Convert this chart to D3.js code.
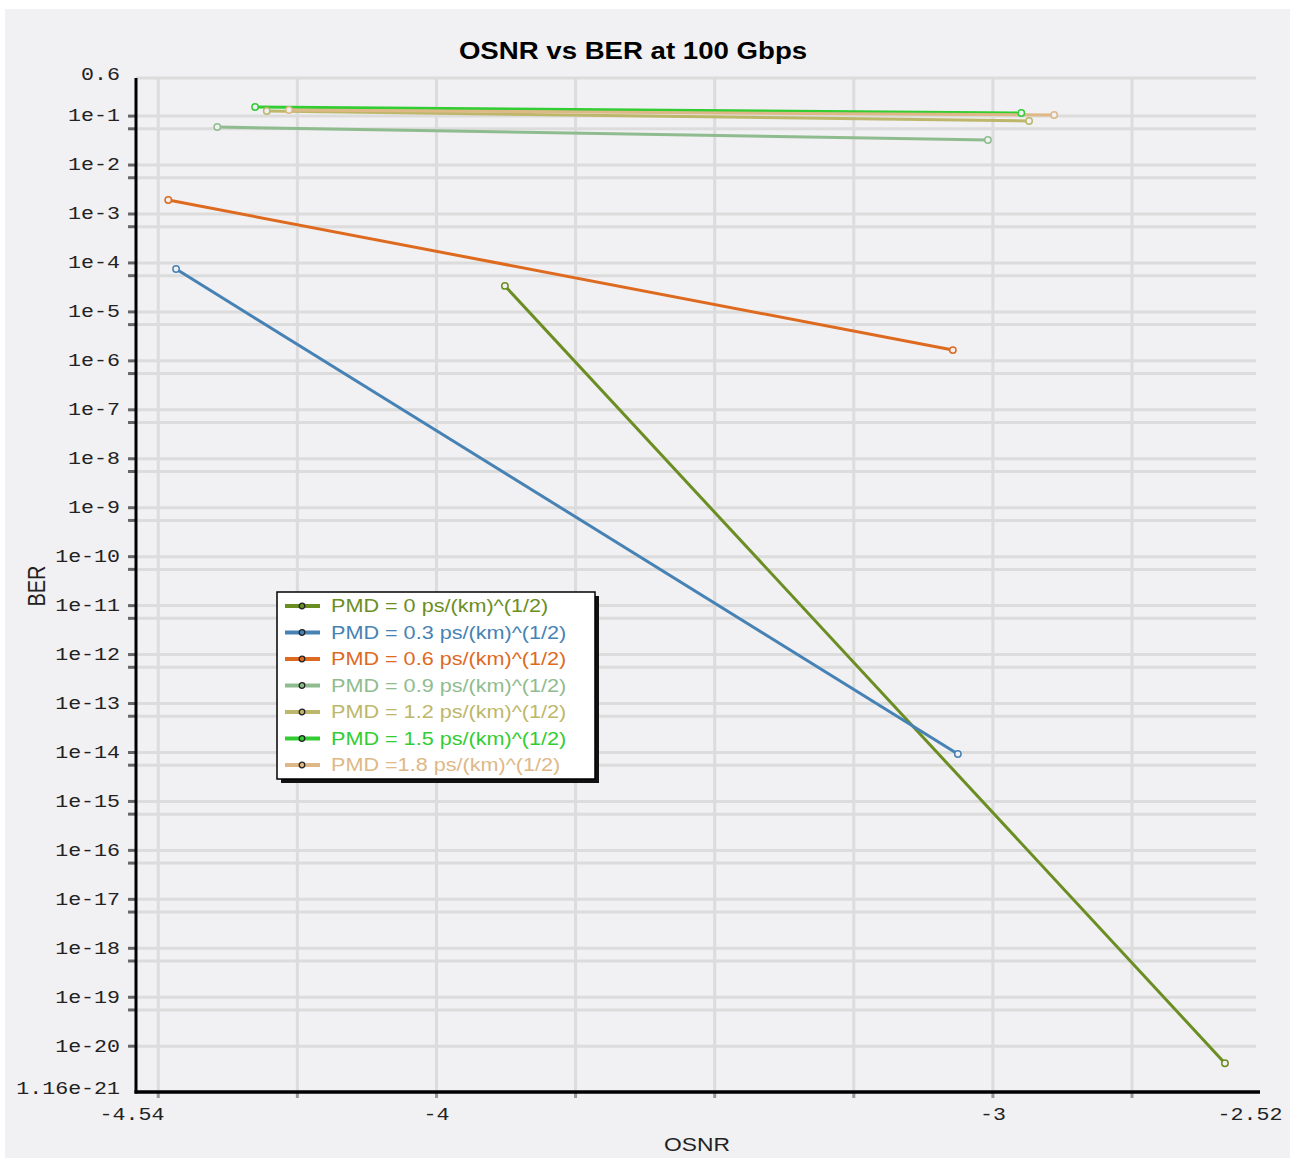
<!DOCTYPE html>
<html>
<head>
<meta charset="utf-8">
<script src="https://cdn.jsdelivr.net/npm/d3@7"></script>
<style>
  html, body { margin: 0; padding: 0; background: #ffffff; }
  svg { display: block; }
</style>
</head>
<body>
<svg id="chart" width="1295" height="1158"></svg>
<script>
// ---- data ----
const seriesNames = [
  "PMD = 0 ps/(km)^(1/2)",
  "PMD = 0.3 ps/(km)^(1/2)",
  "PMD = 0.6 ps/(km)^(1/2)",
  "PMD = 0.9 ps/(km)^(1/2)",
  "PMD = 1.2 ps/(km)^(1/2)",
  "PMD = 1.5 ps/(km)^(1/2)",
  "PMD =1.8 ps/(km)^(1/2)"
];
const seriesColors = ["#6b8e23", "#4682b4", "#dd6a1f", "#8fbc8f", "#bdb76b", "#32cd32", "#deb887"];

// OSNR values (x) per series
const osnrPmd00 = [-3.877, -2.583];
const osnrPmd03 = [-4.468, -3.063];
const osnrPmd06 = [-4.482, -3.072];
const osnrPmd09 = [-4.394, -3.009];
const osnrPmd12 = [-4.305, -2.935];
const osnrPmd15 = [-4.326, -2.949];
const osnrPmd18 = [-4.265, -2.890];

// BER values (y) per series
const berPmd00 = [3.4e-5, 4.5e-21];
const berPmd03 = [7.5e-5, 9.3e-15];
const berPmd06 = [1.93e-3, 1.66e-6];
const berPmd09 = [0.0598, 0.0325];
const berPmd12 = [0.127, 0.0794];
const berPmd15 = [0.153, 0.1156];
const berPmd18 = [0.133, 0.105];

const osnrSeries = [osnrPmd00, osnrPmd03, osnrPmd06, osnrPmd09, osnrPmd12, osnrPmd15, osnrPmd18];
const berSeries  = [berPmd00, berPmd03, berPmd06, berPmd09, berPmd12, berPmd15, berPmd18];

// axes
const xDomain = [-4.54, -2.52];
const yDomain = [1.16e-21, 0.6];
const xLabelTicks = [-4.54, -4, -3, -2.52];
const xGridTicks = [-4.5, -4.25, -4, -3.75, -3.5, -3.25, -3, -2.75];
const yLabelTicks = [0.6, 1e-1, 1e-2, 1e-3, 1e-4, 1e-5, 1e-6, 1e-7, 1e-8, 1e-9, 1e-10,
  1e-11, 1e-12, 1e-13, 1e-14, 1e-15, 1e-16, 1e-17, 1e-18, 1e-19, 1e-20, 1.16e-21];
const yLabelText = ["0.6", "1e-1", "1e-2", "1e-3", "1e-4", "1e-5", "1e-6", "1e-7", "1e-8", "1e-9", "1e-10",
  "1e-11", "1e-12", "1e-13", "1e-14", "1e-15", "1e-16", "1e-17", "1e-18", "1e-19", "1e-20", "1.16e-21"];
const yDecadeTicks = [1e-1, 1e-2, 1e-3, 1e-4, 1e-5, 1e-6, 1e-7, 1e-8, 1e-9, 1e-10,
  1e-11, 1e-12, 1e-13, 1e-14, 1e-15, 1e-16, 1e-17, 1e-18, 1e-19, 1e-20];
const yMinorTicks = [5.5e-2, 5.5e-3, 5.5e-4, 5.5e-5, 5.5e-6, 5.5e-7, 5.5e-8, 5.5e-9, 5.5e-10,
  5.5e-11, 5.5e-12, 5.5e-13, 5.5e-14, 5.5e-15, 5.5e-16, 5.5e-17, 5.5e-18, 5.5e-19, 5.5e-20];

const titleText = "OSNR vs BER at 100 Gbps";
const xTitle = "OSNR";
const yTitle = "BER";

// ---- layout ----
const plot = { left: 136, right: 1260, top: 78, bottom: 1092 };
const svg = d3.select("#chart");
const hStretch = 1.2;

// widen text horizontally (glyphs are drawn wide in this chart style)
function stretch(sel, k) {
  sel.each(function () {
    const len = this.getComputedTextLength();
    d3.select(this).attr("textLength", len * k).attr("lengthAdjust", "spacingAndGlyphs");
  });
}

svg.append("rect").attr("x", 5).attr("y", 9).attr("width", 1285).attr("height", 1149).attr("fill", "#f1f0f3");

const x = d3.scaleLinear().domain(xDomain).range([plot.left, plot.right]);
const y = d3.scaleLog().domain(yDomain).range([plot.bottom, plot.top]);

// grid
const grid = svg.append("g");
grid.selectAll("line.hg").data(yDecadeTicks.concat(yMinorTicks, [yDomain[1]])).join("line")
  .attr("x1", plot.left).attr("x2", plot.right - 4)
  .attr("y1", d => y(d)).attr("y2", d => y(d))
  .attr("stroke", "#dcdcdc").attr("stroke-width", 3);
grid.selectAll("line.vg").data(xGridTicks).join("line")
  .attr("x1", d => x(d)).attr("x2", d => x(d))
  .attr("y1", plot.top).attr("y2", plot.bottom)
  .attr("stroke", "#dcdcdc").attr("stroke-width", 3);

// small tick marks
svg.append("g").selectAll("line").data(yDecadeTicks.concat(yMinorTicks)).join("line")
  .attr("x1", plot.left - 8).attr("x2", plot.left)
  .attr("y1", d => y(d)).attr("y2", d => y(d))
  .attr("stroke", "#666").attr("stroke-width", 3);
svg.append("g").selectAll("line").data(xGridTicks).join("line")
  .attr("x1", d => x(d)).attr("x2", d => x(d))
  .attr("y1", plot.bottom).attr("y2", plot.bottom + 6)
  .attr("stroke", "#999").attr("stroke-width", 3);

// axis lines
svg.append("line").attr("x1", plot.left).attr("x2", plot.left)
  .attr("y1", plot.top).attr("y2", plot.bottom + 1.5)
  .attr("stroke", "#000").attr("stroke-width", 3);
svg.append("line").attr("x1", plot.left - 1.5).attr("x2", plot.right)
  .attr("y1", plot.bottom).attr("y2", plot.bottom)
  .attr("stroke", "#000").attr("stroke-width", 3.5);

// tick labels
const monoFont = "'Liberation Mono', 'DejaVu Sans Mono', monospace";
const yl = svg.append("g").selectAll("text").data(yLabelTicks).join("text")
  .attr("x", 120)
  .attr("y", (d, i) => y(d) - (i === 0 || i === yLabelTicks.length - 1 ? 4 : 1))
  .attr("dy", "0.35em")
  .attr("text-anchor", "end")
  .style("font-family", monoFont).style("font-size", "18px").attr("fill", "#222")
  .text((d, i) => yLabelText[i]);
stretch(yl, hStretch);

const xl = svg.append("g").selectAll("text").data(xLabelTicks).join("text")
  .attr("x", (d, i) => x(d) + (i === 0 ? -4 : (i === xLabelTicks.length - 1 ? -10 : 0)))
  .attr("y", 1120)
  .attr("text-anchor", "middle")
  .style("font-family", monoFont).style("font-size", "18px").attr("fill", "#222")
  .text(d => String(d));
stretch(xl, hStretch);

// titles
const t = svg.append("text").attr("x", 633).attr("y", 59).attr("text-anchor", "middle")
  .style("font-family", "'Liberation Sans', Arial, sans-serif").style("font-size", "23px")
  .style("font-weight", "bold").attr("fill", "#000").text(titleText);
stretch(t, hStretch);

const xt = svg.append("text").attr("x", 697).attr("y", 1151).attr("text-anchor", "middle")
  .style("font-family", "'Liberation Sans', Arial, sans-serif").style("font-size", "19px")
  .attr("fill", "#222").text(xTitle);
stretch(xt, hStretch);

svg.append("text").attr("transform", "translate(45,586) scale(1.2,1) rotate(-90)").attr("text-anchor", "middle")
  .style("font-family", "'Liberation Sans', Arial, sans-serif").style("font-size", "20px")
  .attr("fill", "#222").text(yTitle);

// series
const line = d3.line().x(d => x(d[0])).y(d => y(d[1]));
const seriesData = osnrSeries.map((xs, i) => xs.map((v, j) => [v, berSeries[i][j]]));
const lines = svg.append("g");
seriesData.forEach((pts, i) => {
  lines.append("path").datum(pts).attr("d", line)
    .attr("fill", "none").attr("stroke", seriesColors[i]).attr("stroke-width", 3);
});
seriesData.forEach((pts, i) => {
  lines.append("g").selectAll("circle").data(pts).join("circle")
    .attr("cx", d => x(d[0])).attr("cy", d => y(d[1])).attr("r", 3.2)
    .attr("fill", "#f1f0f3").attr("stroke", seriesColors[i]).attr("stroke-width", 1.5);
});

// legend
const lg = svg.append("g");
const lgBox = { x: 277, y: 592, w: 318, h: 187 };
lg.append("rect").attr("x", lgBox.x + 4).attr("y", lgBox.y + 4).attr("width", lgBox.w).attr("height", lgBox.h).attr("fill", "#111");
lg.append("rect").attr("x", lgBox.x).attr("y", lgBox.y).attr("width", lgBox.w).attr("height", lgBox.h)
  .attr("fill", "#ffffff").attr("stroke", "#000").attr("stroke-width", 1.5);
const rows = lg.selectAll("g.row").data(seriesNames).join("g")
  .attr("transform", (d, i) => `translate(0, ${606 + i * 26.5})`);
rows.append("line").attr("x1", 285).attr("x2", 320).attr("y1", 0).attr("y2", 0)
  .attr("stroke", (d, i) => seriesColors[i]).attr("stroke-width", 4);
rows.append("circle").attr("cx", 302).attr("cy", 0).attr("r", 2.8)
  .attr("fill", (d, i) => seriesColors[i]).attr("stroke", "#222").attr("stroke-width", 1.3);
const lt = rows.append("text").attr("x", 331).attr("y", 0).attr("dy", "0.35em")
  .style("font-family", "'Liberation Sans', Arial, sans-serif").style("font-size", "18px")
  .attr("fill", (d, i) => seriesColors[i]).text(d => d);
stretch(lt, hStretch);
</script>
</body>
</html>
